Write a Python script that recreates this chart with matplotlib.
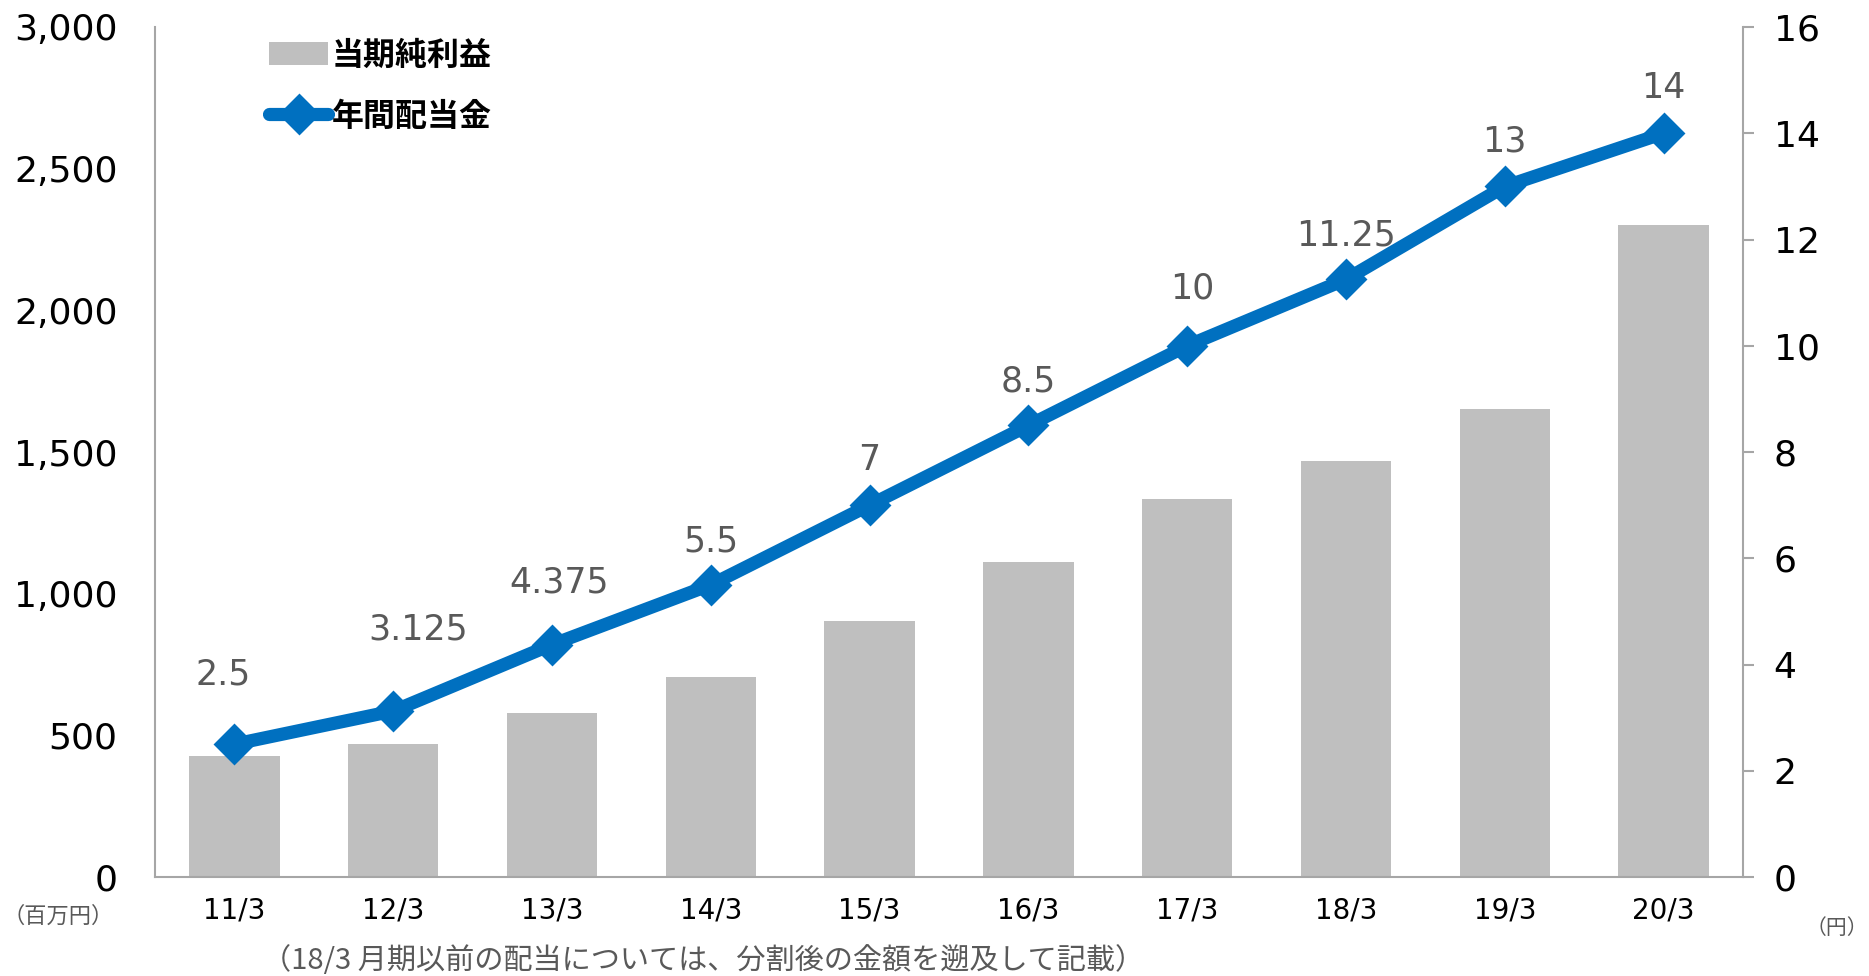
import matplotlib
matplotlib.use("Agg")
import matplotlib.pyplot as plt
from matplotlib.ticker import FuncFormatter

plt.rcParams['font.family'] = ['Noto Sans CJK JP', 'DejaVu Sans']

# ---- data ----
categories = ["11/3", "12/3", "13/3", "14/3", "15/3", "16/3", "17/3", "18/3", "19/3", "20/3"]
net_income = [428, 468, 578, 706, 904, 1113, 1335, 1467, 1652, 2302]   # 百万円
dividends = [2.5, 3.125, 4.375, 5.5, 7, 8.5, 10, 11.25, 13, 14]          # 円
dividend_labels = ["2.5", "3.125", "4.375", "5.5", "7", "8.5", "10", "11.25", "13", "14"]
left_ticks = [0, 500, 1000, 1500, 2000, 2500, 3000]
right_ticks = [0, 2, 4, 6, 8, 10, 12, 14, 16]
bar_name = "当期純利益"
line_name = "年間配当金"
left_unit = "（百万円）"
right_unit = "（円）"
footnote = "（18/3 月期以前の配当については、分割後の金額を遡及して記載）"

# label offsets (pixels) relative to each point
label_dx = [-11, 25, 7, 0, 0, 0, 5, 0, 0, 0]
label_dy = [70, 81, 62, 43, 45, 44, 57, 44, 45, 45]

BAR_C = "#BFBFBF"
LINE_C = "#0070C0"
SPINE_C = "#A6A6A6"
TXT_GRAY = "#595959"
NUM_FONT = ['DejaVu Sans']

fig = plt.figure(figsize=(18.69, 9.76), dpi=100)
ax = fig.add_axes([155 / 1869, 1 - 877 / 976, (1743 - 155) / 1869, (877 - 27) / 976])
x = list(range(len(categories)))

bars = ax.bar(x, net_income, width=0.57, color=BAR_C, zorder=2, label=bar_name)
ax.set_xlim(-0.5, len(categories) - 0.5)
ax.set_ylim(0, 3000)
ax.set_yticks(left_ticks)
ax.yaxis.set_major_formatter(FuncFormatter(lambda v, p: f"{int(v):,}"))
ax.set_xticks(x)
ax.set_xticklabels(categories)
ax.tick_params(axis='y', length=0, pad=27, labelsize=26, labelcolor='black')
ax.tick_params(axis='x', length=0, pad=14, labelsize=20, labelcolor='black')
for t in ax.get_yticklabels() + ax.get_xticklabels():
    t.set_family(NUM_FONT)

for s in ['top', 'right']:
    ax.spines[s].set_visible(False)
for s in ['left', 'bottom']:
    ax.spines[s].set_color(SPINE_C)
    ax.spines[s].set_linewidth(1.5)

ax2 = ax.twinx()
line, = ax2.plot(x, dividends, color=LINE_C, lw=9.5, marker='D', ms=19,
                 markeredgecolor=LINE_C, markeredgewidth=2, zorder=3,
                 solid_capstyle='round', label=line_name)
ax2.set_ylim(0, 16)
ax2.set_yticks(right_ticks)
ax2.tick_params(axis='y', length=8, width=1.5, color=SPINE_C, pad=14, labelsize=26, labelcolor='black')
for t in ax2.get_yticklabels():
    t.set_family(NUM_FONT)
for s in ['top', 'left', 'bottom']:
    ax2.spines[s].set_visible(False)
ax2.spines['right'].set_color(SPINE_C)
ax2.spines['right'].set_linewidth(1.5)

for xi, yi, lab, dx, dy in zip(x, dividends, dividend_labels, label_dx, label_dy):
    ax2.annotate(lab, (xi, yi), xytext=(dx, dy), textcoords='offset pixels',
                 ha='center', va='center', fontsize=25, color=TXT_GRAY, family=NUM_FONT)

leg = ax2.legend([bars, line], [bar_name, line_name], loc='upper left',
                 bbox_to_anchor=(0.072, 0.985), frameon=False, borderpad=0,
                 borderaxespad=0, handlelength=1.85, handletextpad=0.1,
                 labelspacing=0.9, prop={'size': 23, 'weight': 'bold'})

fig.text(2 / 1869, 1 - 916 / 976, left_unit, fontsize=16, color=TXT_GRAY, ha='left', va='center')
fig.text(1868 / 1869, 1 - 928 / 976, right_unit, fontsize=15, color=TXT_GRAY, ha='right', va='center')
fig.text(703 / 1869, 1 - 961 / 976, footnote, fontsize=21, color=TXT_GRAY, ha='center', va='center')

fig.savefig("out.png", dpi=100)
